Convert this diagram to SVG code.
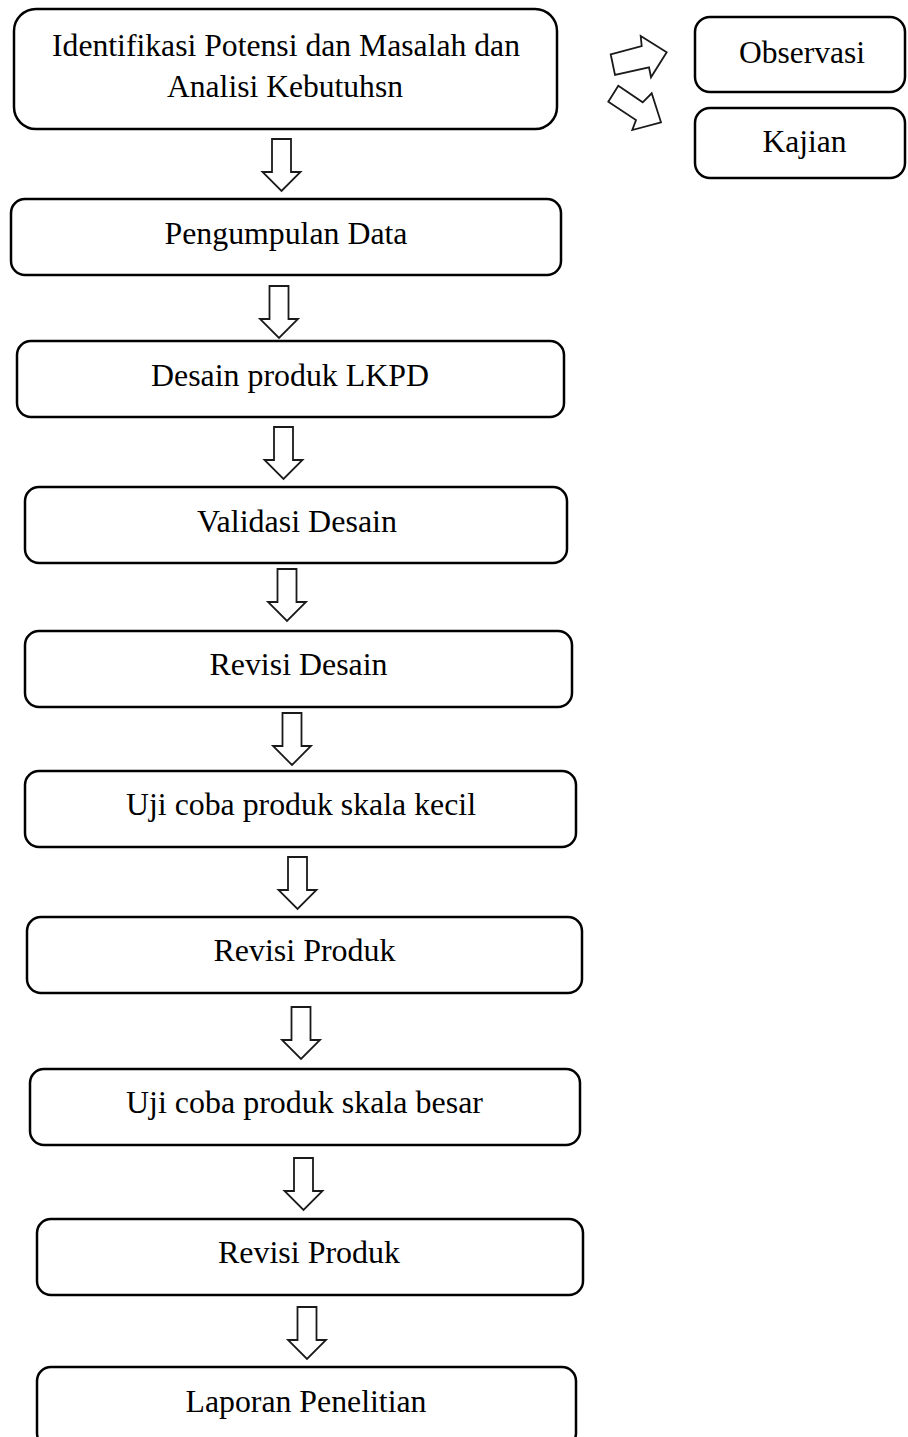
<svg xmlns="http://www.w3.org/2000/svg" xmlns:xlink="http://www.w3.org/1999/xlink" width="908" height="1437" viewBox="0 0 908 1437">
<style>
.box{fill:#fff;stroke:#000;stroke-width:2.5}
.lbl{font-family:"Liberation Serif","Times New Roman",serif;font-size:31px;fill:#000;text-anchor:middle}
.arr{fill:#fff;stroke:#1a1a1a;stroke-width:1.8;stroke-linejoin:miter}
</style>
<defs>
<path id="dn" d="M-9.5,0 H9.5 V33 H19 L0,52 L-19,33 H-9.5 Z"/>
</defs>
<rect width="908" height="1437" fill="#fff"/>
<g id="connectors">
<use xlink:href="#dn" class="arr" transform="translate(281.5,139)"/>
<use xlink:href="#dn" class="arr" transform="translate(279,286)"/>
<use xlink:href="#dn" class="arr" transform="translate(283.5,427)"/>
<use xlink:href="#dn" class="arr" transform="translate(287,569)"/>
<use xlink:href="#dn" class="arr" transform="translate(292,713)"/>
<use xlink:href="#dn" class="arr" transform="translate(297.5,857)"/>
<use xlink:href="#dn" class="arr" transform="translate(301,1007)"/>
<use xlink:href="#dn" class="arr" transform="translate(303.5,1158)"/>
<use xlink:href="#dn" class="arr" transform="translate(307,1307)"/>
<polygon class="arr" stroke-width="2.2" points="610.7,54.3 641.7,46 640.7,36 666.7,52.3 651,77.3 649,67.3 615,75"/>
<polygon class="arr" stroke-width="2.2" points="618.3,85.7 642.7,102.3 651.7,93.3 661,122.3 632.3,130 636,120 608.3,101.7"/>
</g>
<g id="n1"><rect class="box" x="14" y="9" width="543" height="120" rx="22"/>
<text class="lbl" x="286" y="56" textLength="468" lengthAdjust="spacingAndGlyphs">Identifikasi Potensi dan Masalah dan</text>
<text class="lbl" x="285" y="97" textLength="236" lengthAdjust="spacingAndGlyphs">Analisi Kebutuhsn</text></g>
<g id="obs"><rect class="box" x="695" y="17" width="210" height="75" rx="15"/>
<text class="lbl" x="802" y="63" textLength="126" lengthAdjust="spacingAndGlyphs">Observasi</text></g>
<g id="kaj"><rect class="box" x="695" y="108" width="210" height="70" rx="15"/>
<text class="lbl" x="804.5" y="152" textLength="84" lengthAdjust="spacingAndGlyphs">Kajian</text></g>
<g id="n2"><rect class="box" x="11" y="199" width="550" height="76" rx="14"/>
<text class="lbl" x="286" y="244" textLength="243" lengthAdjust="spacingAndGlyphs">Pengumpulan Data</text></g>
<g id="n3"><rect class="box" x="17" y="341" width="547" height="76" rx="14"/>
<text class="lbl" x="290" y="386" textLength="278" lengthAdjust="spacingAndGlyphs">Desain produk LKPD</text></g>
<g id="n4"><rect class="box" x="25" y="487" width="542" height="76" rx="14"/>
<text class="lbl" x="297" y="532" textLength="200" lengthAdjust="spacingAndGlyphs">Validasi Desain</text></g>
<g id="n5"><rect class="box" x="25" y="631" width="547" height="76" rx="14"/>
<text class="lbl" x="298.5" y="675" textLength="178" lengthAdjust="spacingAndGlyphs">Revisi Desain</text></g>
<g id="n6"><rect class="box" x="25" y="771" width="551" height="76" rx="14"/>
<text class="lbl" x="301" y="815" textLength="350" lengthAdjust="spacingAndGlyphs">Uji coba produk skala kecil</text></g>
<g id="n7"><rect class="box" x="27" y="917" width="555" height="76" rx="14"/>
<text class="lbl" x="304.5" y="961" textLength="182" lengthAdjust="spacingAndGlyphs">Revisi Produk</text></g>
<g id="n8"><rect class="box" x="30" y="1069" width="550" height="76" rx="14"/>
<text class="lbl" x="304.5" y="1113" textLength="357" lengthAdjust="spacingAndGlyphs">Uji coba produk skala besar</text></g>
<g id="n9"><rect class="box" x="37" y="1219" width="546" height="76" rx="14"/>
<text class="lbl" x="309" y="1263" textLength="182" lengthAdjust="spacingAndGlyphs">Revisi Produk</text></g>
<g id="n10"><rect class="box" x="37" y="1367" width="539" height="80" rx="14"/>
<text class="lbl" x="306" y="1412" textLength="241" lengthAdjust="spacingAndGlyphs">Laporan Penelitian</text></g>
</svg>
